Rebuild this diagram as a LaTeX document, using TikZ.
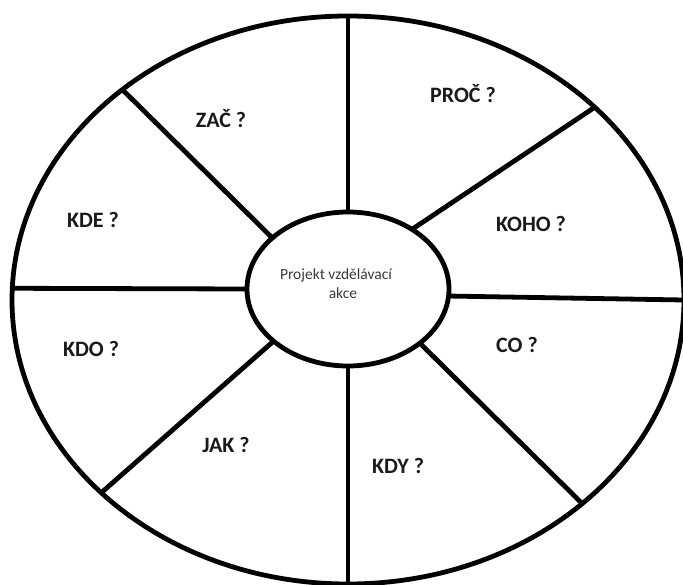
\documentclass[tikz,border=0pt]{standalone}
\usepackage{fontspec}
\setmainfont{Carlito}
\usetikzlibrary{shapes.geometric}
\definecolor{labelc}{HTML}{1A1A1A}
\definecolor{centc}{HTML}{3A3A3A}
\tikzset{
  ring/.style={draw=black, ellipse, line width=4.8pt, inner sep=0pt, outer sep=0pt},
  spoke/.style={draw=black, line width=4.8pt, line cap=butt},
  qlabel/.style={anchor=base, inner sep=0pt, text=labelc, font=\fontsize{22}{25}\selectfont\bfseries},
  ctext/.style={anchor=base, inner sep=0pt, text=centc, font=\fontsize{15.5}{19}\selectfont}
}
\begin{document}
\begin{tikzpicture}[x=1pt,y=-1pt]
\useasboundingbox (0,0) rectangle (683,585);
\fill[white] (0,0) rectangle (683,585);
\node[ring, minimum width=672pt, minimum height=568pt] (o) at (348,300) {};
\node[ring, minimum width=202pt, minimum height=154pt] (c) at (348,289) {};
% spokes
\draw[spoke] (o.north) -- (c.north);
\draw[spoke] (c.south) -- (o.south);
\draw[spoke] (o.178) -- (c.180);
\draw[spoke] (c.-4) -- (o.0.85);
\draw[spoke] (o.137.4) -- (c.146.3);
\draw[spoke] (o.38.1) -- (c.43.3);
\draw[spoke] (o.218.1) -- (c.215.7);
\draw[spoke] (o.319.2) -- (c.323.7);
% labels
\node[qlabel] (zac) at (221,128) {ZAČ ?};
\node[qlabel] (proc) at (463,103) {PROČ ?};
\node[qlabel] (kde) at (93,228) {KDE ?};
\node[qlabel] (koho) at (531,232) {KOHO ?};
\node[qlabel] (kdo) at (91,357) {KDO ?};
\node[qlabel] (co) at (517,353) {CO ?};
\node[qlabel] (jak) at (226,452) {JAK ?};
\node[qlabel] (kdy) at (398,473) {KDY ?};
\node[ctext] (ct1) at (336,280) {Projekt vzdělávací};
\node[ctext] (ct2) at (343,299) {akce};
\end{tikzpicture}
\end{document}
